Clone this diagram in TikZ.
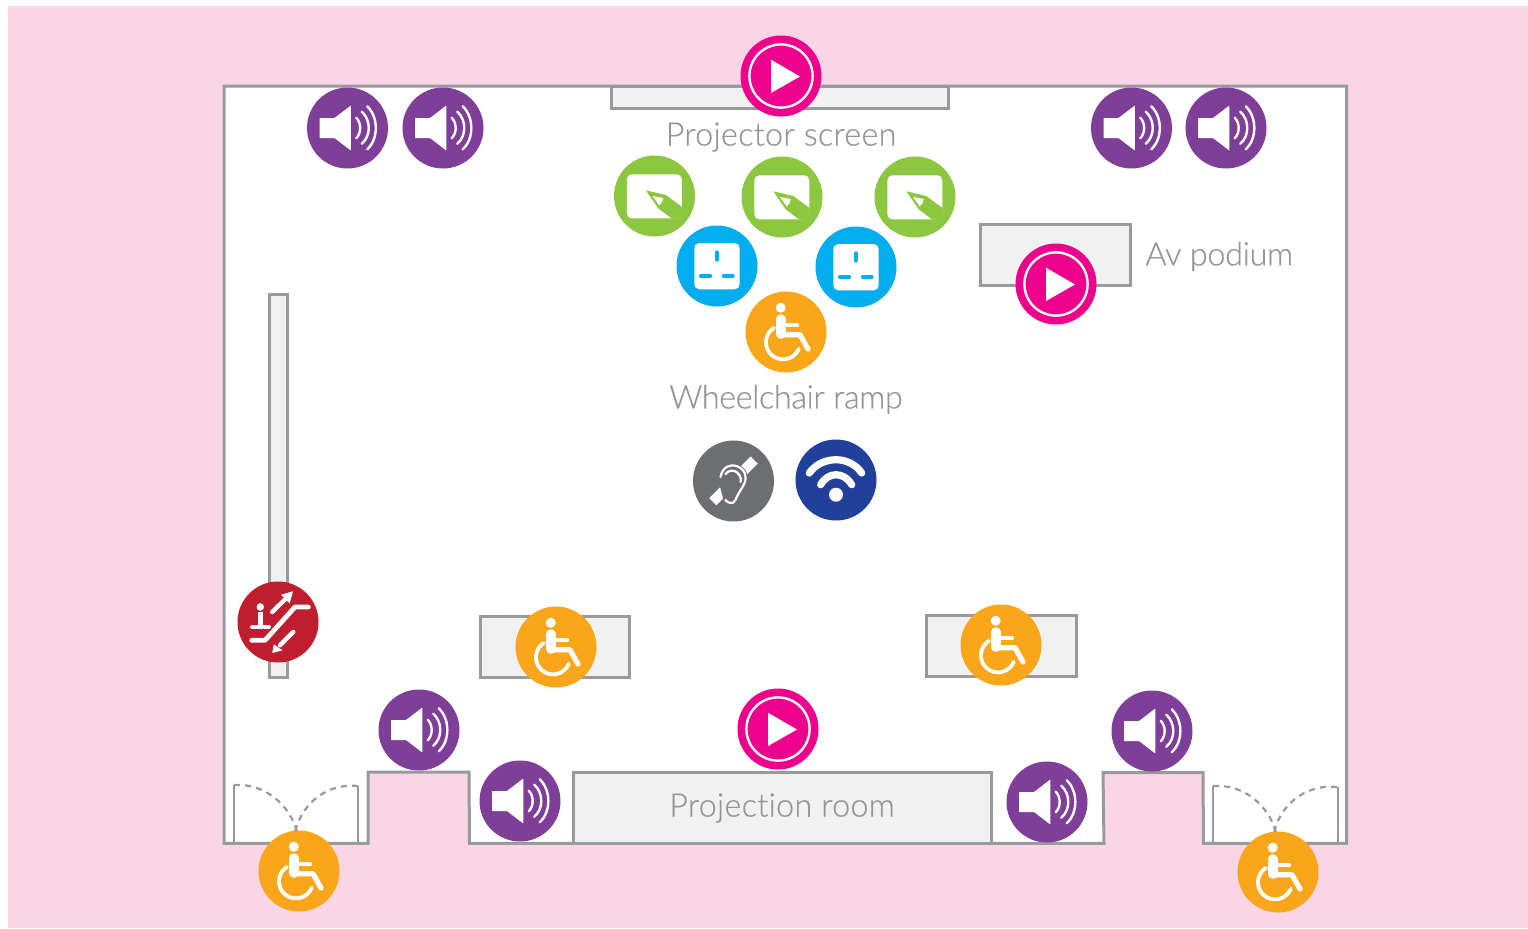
\documentclass[tikz,border=0pt]{standalone}
\usepackage{fontspec}
\setmainfont{Lato Light}[FakeBold=0.35,Ligatures=NoCommon]
\definecolor{pinkbg}{HTML}{F9D5E5}
\definecolor{wall}{HTML}{999A9D}
\definecolor{roomfill}{HTML}{F1F1F2}
\definecolor{labelgrey}{HTML}{939598}
\definecolor{playc}{HTML}{EC008C}
\definecolor{purplec}{HTML}{7F3F98}
\definecolor{greenc}{HTML}{8DC63F}
\definecolor{bluec}{HTML}{00AEEF}
\definecolor{orangec}{HTML}{FAA61A}
\definecolor{redc}{HTML}{BE1E2D}
\definecolor{greyc}{HTML}{6D6E71}
\definecolor{navyc}{HTML}{21409A}
\tikzset{
  disc/.style={circle,inner sep=0pt,minimum size=40.5pt,fill=#1},
  wallline/.style={draw=wall,line width=1.5pt,line join=miter},
  roombox/.style={wallline,fill=roomfill},
  doorarc/.style={draw=wall,line width=1.1pt,dash pattern=on 3pt off 2.6pt},
  jamb/.style={draw=wall,line width=1.1pt},
  lab/.style={text=labelgrey,font=\fontsize{16.2}{18}\selectfont,inner sep=0pt},
  pics/play/.style={code={
    \node[disc=playc] (-c) at (0,0) {};
    \draw[white,line width=1.2pt] (0,0) circle[radius=15.8pt];
    \fill[white] (-10,-16.3) -- (-10,17) -- (19,0.5) -- cycle;
  }},
  pics/speaker/.style={code={
    \node[disc=purplec] (-c) at (0,0) {};
    \fill[white,rounded corners=0.3pt] (-28,-10) -- (-13,-10) -- (3.3,-22.5) -- (3.3,22.5) -- (-13,10) -- (-28,10) -- cycle;
    \draw[white,line width=1.2pt,line cap=round]
      (8.7,-10.3) .. controls (14,-5) and (14,5) .. (8.7,10.3)
      (14.3,-16.3) .. controls (23.6,-8) and (23.6,8) .. (14.3,15.7)
      (19.7,-21.7) .. controls (31.2,-11) and (31.2,11) .. (19.7,21.3);
  }},
  pics/board/.style={code={
    \node[disc=greenc] (-c) at (0,0) {};
    \fill[white,rounded corners=2.5pt] (-27.7,-21.7) rectangle (27.3,22.3);
    \fill[greenc] (-8.7,-5.7) -- (11.3,-1) -- (27.6,11) -- (27.6,22.6) -- (17.3,22.6) -- (3.7,12.3) -- cycle;
    \fill[white] (-2,0) -- (8.7,2) .. controls (8,6) and (6.5,8) .. (4.7,9.3) -- cycle;
  }},
  pics/socket/.style={code={
    \node[disc=bluec] (-c) at (0,0) {};
    \fill[white,rounded corners=2.5pt] (-22.7,-23) rectangle (22.7,23.3);
    \draw[bluec,line width=2.2pt,line cap=round]
      (-0.3,-13.5) -- (-0.3,-6.5)
      (-16,9.7) -- (-7,9.7)
      (7,9.7) -- (15.5,9.7);
  }},
  pics/wheel/.style={code={
    \node[disc=orangec] (-c) at (0,0) {};
    \fill[white] (-5.3,-24.3) circle[radius=2.5pt];
    \draw[white,line width=4.8pt,line cap=round] (-5.3,-13) -- (-5.3,2);
    \draw[white,line width=2.1pt,line cap=round] (-3,-6.7) -- (11,-6.7);
    \draw[white,line width=2.6pt,line cap=round,line join=round] (-5,2.7) -- (14,2.7) -- (22,17);
    \draw[white,line width=1.9pt,line cap=round] plot[domain=122:338,samples=40,smooth] ({-3+17*cos(\x)},{10.3-17*sin(\x)});
  }},
  pics/loop/.style={code={
    \node[disc=greyc] (-c) at (0,0) {};
    \draw[white,line width=5pt] (-20.7,20.7) -- (20.7,-21);
    \fill[greyc] (-16,-4) .. controls (-14,-18) and (-4,-17) .. (0,-16) .. controls (10,-14) and (14,-6) .. (12,3) .. controls (9,12) and (6,12) .. (3,20) .. controls (0,25) and (-8,24) .. (-10,19) -- cycle;
    \draw[greyc,line width=2pt,line cap=round] (-13,-4) .. controls (-11,-15) and (-2,-17) .. (3,-15) .. controls (11,-12) and (14,-5) .. (11,2) .. controls (8,9) and (5,11) .. (2,19) .. controls (0,24) and (-6,22) .. (-8,19);
    \draw[white,line width=1.1pt,line cap=round] (-13,-4) .. controls (-11,-15) and (-2,-17) .. (3,-15) .. controls (11,-12) and (14,-5) .. (11,2) .. controls (8,9) and (5,11) .. (2,19) .. controls (0,24) and (-6,22) .. (-8,19);
    \draw[white,line width=1.1pt,line cap=round] (-8,-7) .. controls (-5,-11) and (0,-11) .. (3,-9) .. controls (7,-6) and (8,-2) .. (7,1);
  }},
  pics/wifi/.style={code={
    \node[disc=navyc] (-c) at (0,0) {};
    \draw[white,line width=3.6pt,line cap=round]
      (-26.7,-7) .. controls (-14,-24.7) and (14,-24.7) .. (25.7,-7)
      (-15.3,4.7) .. controls (-8,-8.6) and (8,-8.6) .. (15.7,4.7);
    \fill[white] (0,14.7) circle[radius=3.5pt];
  }},
  pics/escal/.style={code={
    \node[disc=redc] (-c) at (0,0) {};
    \fill[white] (-17.7,-15) circle[radius=1.9pt];
    \draw[white,line width=2.3pt] (-17.7,-10) -- (-17.7,5);
    \draw[white,line width=2pt,line cap=round] (-26,5) -- (-9,5);
    \draw[white,line width=2.4pt,line cap=round,line join=round] (-26.3,18.3) -- (-13,18.3) -- (17,-15) -- (30.3,-15);
    \draw[white,line width=2.2pt,line cap=round] (-5.7,-10) -- (8.7,-24.3);
    \fill[white] (15,-30.7) -- (3,-27.3) -- (11.7,-18.7) -- cycle;
    \draw[white,line width=2.2pt,line cap=round] (15.3,10) -- (2,23.3);
    \fill[white] (-5.7,31) -- (-4.3,22.3) -- (4.7,28.3) -- cycle;
  }}
}
\begin{document}
\begin{tikzpicture}[x=0.5pt,y=-0.5pt]
\useasboundingbox (0,0) rectangle (1528,928);
\fill[white] (0,0) rectangle (1528,928);
\fill[pinkbg] (8,6) rectangle (1528,928);
% walls
\draw[wallline,fill=white] (224,86) -- (1346.5,86) -- (1346.5,843.3) -- (1203.5,843.3) -- (1203,772.5) -- (1103,772.5) -- (1104,843.3) -- (469.5,843.3) -- (469,772) -- (368,772) -- (368,843.3) -- (224,843.3) -- cycle;
% rooms
\draw[roombox] (611,86) rectangle (948.5,108);
\draw[roombox] (980,224) rectangle (1130.5,285);
\draw[roombox] (269.5,294) rectangle (287.7,677.5);
\draw[roombox] (480,616) rectangle (629.7,677);
\draw[roombox] (926,615) rectangle (1076.7,676);
\draw[roombox] (573,772) rectangle (991.7,843.3);
% doors
\draw[jamb] (233.7,785) -- (233.7,843);
\draw[jamb] (358.3,786) -- (358.3,843);
\draw[jamb] (1213,786) -- (1213,843);
\draw[jamb] (1337.7,787) -- (1337.7,843);
\draw[doorarc] (234,785) .. controls (265,783) and (290,805) .. (297,832);
\draw[doorarc] (358,786) .. controls (330,783) and (303,800) .. (295,832);
\draw[doorarc] (1213,786) .. controls (1244,784) and (1268,805) .. (1276,832);
\draw[doorarc] (1337,787) .. controls (1309,784) and (1282,801) .. (1274,832);
% labels
\node[lab] (screenlab) at (781,137) {\addfontfeature{LetterSpace=0.8}Projector screen};
\node[lab,anchor=west] (podiumlab) at (1145,256.5) {\addfontfeature{LetterSpace=-1}Av podium};
\node[lab] (ramplab) at (786,399.5) {\addfontfeature{LetterSpace=-1.25}Wheelchair ramp};
\node[lab] (projlab) at (782,808) {\addfontfeature{LetterSpace=0.8}Projection room};
% icons
\pic (p1) at (781,76) {play};
\pic (p2) at (1056,284) {play};
\pic (p3) at (778,729) {play};
\pic (s1) at (347.5,128) {speaker};
\pic (s2) at (443,128) {speaker};
\pic (s3) at (1131.5,128) {speaker};
\pic (s4) at (1226,128) {speaker};
\pic (s5) at (419,730) {speaker};
\pic (s6) at (520,801) {speaker};
\pic (s7) at (1047,802) {speaker};
\pic (s8) at (1152,731) {speaker};
\pic (g1) at (654.5,196) {board};
\pic (g2) at (782,197) {board};
\pic (g3) at (915,197) {board};
\pic (b1) at (717,266) {socket};
\pic (b2) at (856,267) {socket};
\pic (w1) at (786,332) {wheel};
\pic (w2) at (556,647) {wheel};
\pic (w3) at (1001,645) {wheel};
\pic (w4) at (299,871) {wheel};
\pic (w5) at (1278,872) {wheel};
\pic (h1) at (733.5,481) {loop};
\pic (f1) at (836,480) {wifi};
\pic (e1) at (278,622) {escal};
\end{tikzpicture}
\end{document}
